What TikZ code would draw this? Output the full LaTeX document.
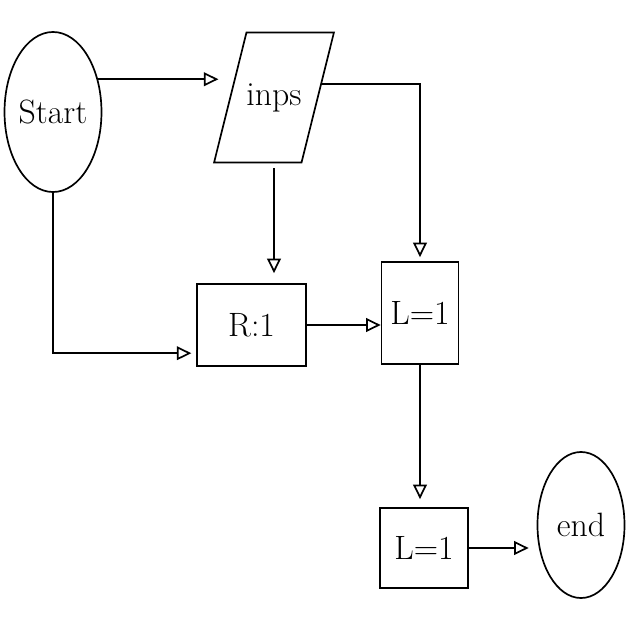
\documentclass[tikz,border=0pt]{standalone}
\usepackage{tikz}
\usetikzlibrary{arrows.meta}
\usetikzlibrary{shapes.geometric}
\tikzset{
  flow/.style={line width=1.2pt,-{Triangle[open,length=3.6mm,width=3.4mm,line width=1.2pt]}},
  terminal/.style={ellipse, draw, line width=1.2pt, inner sep=0pt, font=\fontsize{24}{28}\selectfont},
  process/.style={rectangle, draw, line width=1.2pt, inner sep=0pt, font=\fontsize{24}{28}\selectfont},
  io/.style={trapezium, trapezium left angle=76, trapezium right angle=104,
    trapezium stretches body=true, draw, line width=1.2pt, inner xsep=0pt, inner ysep=1.27cm,
    font=\fontsize{24}{28}\selectfont}
}

\begin{document}
\begin{tikzpicture}[x=0.025cm, y=-0.025cm]
    \useasboundingbox (0,0) rectangle (640,640);
    % shapes
    \node[terminal, minimum width=2.25cm, minimum height=4cm] (start) at (53,112) {Start};
    \node[io] (inps) at (274,97.5) {inps};
    \node[process, minimum width=2.725cm, minimum height=2.05cm] (rbox) at (251.5,325) {R:1};
    \node[process, minimum width=1.925cm, minimum height=2.55cm] (lbox) at (420,313) {L=1};
    \node[process, minimum width=2.2cm, minimum height=2cm] (lboxb) at (424,548) {L=1};
    \node[terminal, minimum width=2.175cm, minimum height=3.65cm] (end) at (581,525) {end};
    % connectors
    \draw[flow, shorten >=0.275cm] (start.36) -- (start.36 -| inps.west);
    \draw[flow, shorten >=0.1cm] (inps.16) -| (lbox.north);
    \draw[flow, shorten <=0.12cm, shorten >=0.25cm] (inps.south) -- (inps.south |- rbox.north);
    \draw[flow, shorten >=0.12cm] (start.south) |- (rbox.207);
    \draw[flow] (rbox.east) -- (rbox.east -| lbox.west);
    \draw[flow, shorten >=0.2cm] (lbox.south) -- (lbox.south |- lboxb.north);
    \draw[flow, shorten >=0.2cm] (lboxb.east) -- (lboxb.east -| end.west);
\end{tikzpicture}
\end{document}
